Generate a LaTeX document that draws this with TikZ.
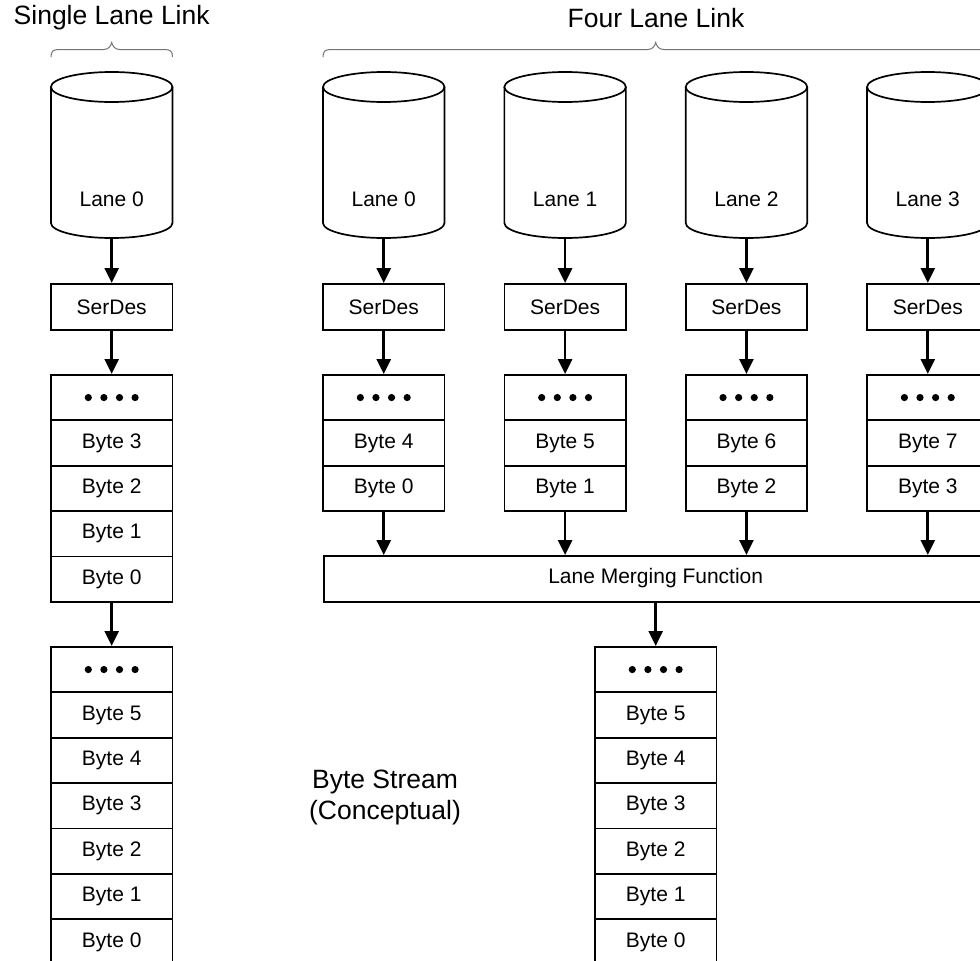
\documentclass[tikz,border=0pt]{standalone}
\usepackage{fontspec}
\setmainfont{Liberation Sans}
\usetikzlibrary{arrows.meta}
\newcommand\lanecyl[3]{%
  \node[cylbody] (#1) at (#2,155) {};
  \draw[ln] (#2,87) ellipse [x radius=60.75pt, y radius=15pt];
  \draw[ln] (#2-60.75,87) -- (#2-60.75,223) arc[start angle=180, end angle=360, x radius=60.75pt, y radius=15pt] -- (#2+60.75,87);
  \node[lbl] (#1l) at (#2,199.5) {#3};
}
\newcommand\fourdots[1]{%
  \foreach \d in {-1.5,-0.5,0.5,1.5} \fill ([xshift=\d*15.6pt]#1.center) circle[radius=3.6pt];
}
\newcommand\mybrace[3]{% x1, x2, mid
  \draw[brc] (#1,57) .. controls (#1,51.5) and (#1+2,49.5) .. (#1+8,49.5) -- (#3-8,49.5)
    .. controls (#3-3,49.5) and (#3-1,46) .. (#3,42.5)
    .. controls (#3+1,46) and (#3+3,49.5) .. (#3+8,49.5) -- (#2-8,49.5)
    .. controls (#2-2,49.5) and (#2,51.5) .. (#2,57);
}
\begin{document}
\begin{tikzpicture}[x=1pt,y=-1pt,
  every node/.style={font=\fontsize{21}{25}\selectfont},
  box/.style={draw,line width=1.7pt,minimum width=121.5pt,minimum height=45.4pt,inner sep=0pt,anchor=north},
  serbox/.style={box,minimum height=46pt},
  cylbody/.style={minimum width=121.5pt,minimum height=166pt,inner sep=0pt},
  lbl/.style={inner sep=0pt},
  arr/.style={line width=2.7pt,-{Triangle[length=15pt,width=14pt]}},
  ln/.style={line width=1.7pt},
  brc/.style={line width=1pt,draw=black!55},
  ttl/.style={font=\fontsize{26.5}{31}\selectfont,inner sep=0pt}]
\clip (0,0) rectangle (980,961);
\fill[white] (0,0) rectangle (980,961);

% ---------- titles and braces
\node[ttl] (tS) at (111.7,18) {Single Lane Link};
\node[ttl] (tF) at (656,18) {Four Lane Link};
\mybrace{51}{172.5}{111.7}
\mybrace{323}{988.5}{655.7}

% ---------- single lane
\lanecyl{cS}{111.7}{Lane 0}
\node[serbox] (serS) at (111.7,283) {SerDes};
\node[box] (sd) at (111.7,374) {};
\node[box] (s3) at (111.7,419.4) {Byte 3};
\node[box] (s2) at (111.7,464.8) {Byte 2};
\node[box] (s1) at (111.7,510.2) {Byte 1};
\node[box] (s0) at (111.7,555.6) {Byte 0};
\fourdots{sd}
\draw[arr] (cS.south) -- (serS.north);
\draw[arr] (serS.south) -- (sd.north);

\node[box] (td) at (111.7,646) {};
\node[box] (t5) at (111.7,691.4) {Byte 5};
\node[box] (t4) at (111.7,736.8) {Byte 4};
\node[box] (t3) at (111.7,782.2) {Byte 3};
\node[box] (t2) at (111.7,827.6) {Byte 2};
\node[box] (t1) at (111.7,873) {Byte 1};
\node[box] (t0) at (111.7,918.4) {Byte 0};
\fourdots{td}
\draw[arr] (s0.south) -- (td.north);

% ---------- four lanes
\node[draw,line width=1.7pt,minimum width=665.5pt,minimum height=46pt,inner sep=0pt,anchor=north west] (merge) at (323,555) {};
\node[lbl] (mergel) at (655.7,578) {Lane Merging Function};
\foreach \i/\x/\a/\b in {0/383.75/4/0, 1/565.1/5/1, 2/746.45/6/2, 3/927.8/7/3}{
  \lanecyl{c\i}{\x}{Lane \i}
  \node[serbox] (ser\i) at (\x,283) {SerDes};
  \node[box] (ld\i) at (\x,374) {};
  \node[box] (lh\i) at (\x,419.4) {Byte \a};
  \node[box] (ll\i) at (\x,464.8) {Byte \b};
  \fourdots{ld\i}
  \draw[arr] (c\i.south) -- (ser\i.north);
  \draw[arr] (ser\i.south) -- (ld\i.north);
  \draw[arr] (ll\i.south) -- (ll\i.south |- merge.north);
}

% ---------- byte stream
\node[box] (bd) at (655.7,646) {};
\node[box] (b5) at (655.7,691.4) {Byte 5};
\node[box] (b4) at (655.7,736.8) {Byte 4};
\node[box] (b3) at (655.7,782.2) {Byte 3};
\node[box] (b2) at (655.7,827.6) {Byte 2};
\node[box] (b1) at (655.7,873) {Byte 1};
\node[box] (b0) at (655.7,918.4) {Byte 0};
\fourdots{bd}
\draw[arr] (merge.south -| bd.north) -- (bd.north);

\node[ttl,align=center] (bs) at (385,797) {Byte Stream\\(Conceptual)};
\end{tikzpicture}
\end{document}
